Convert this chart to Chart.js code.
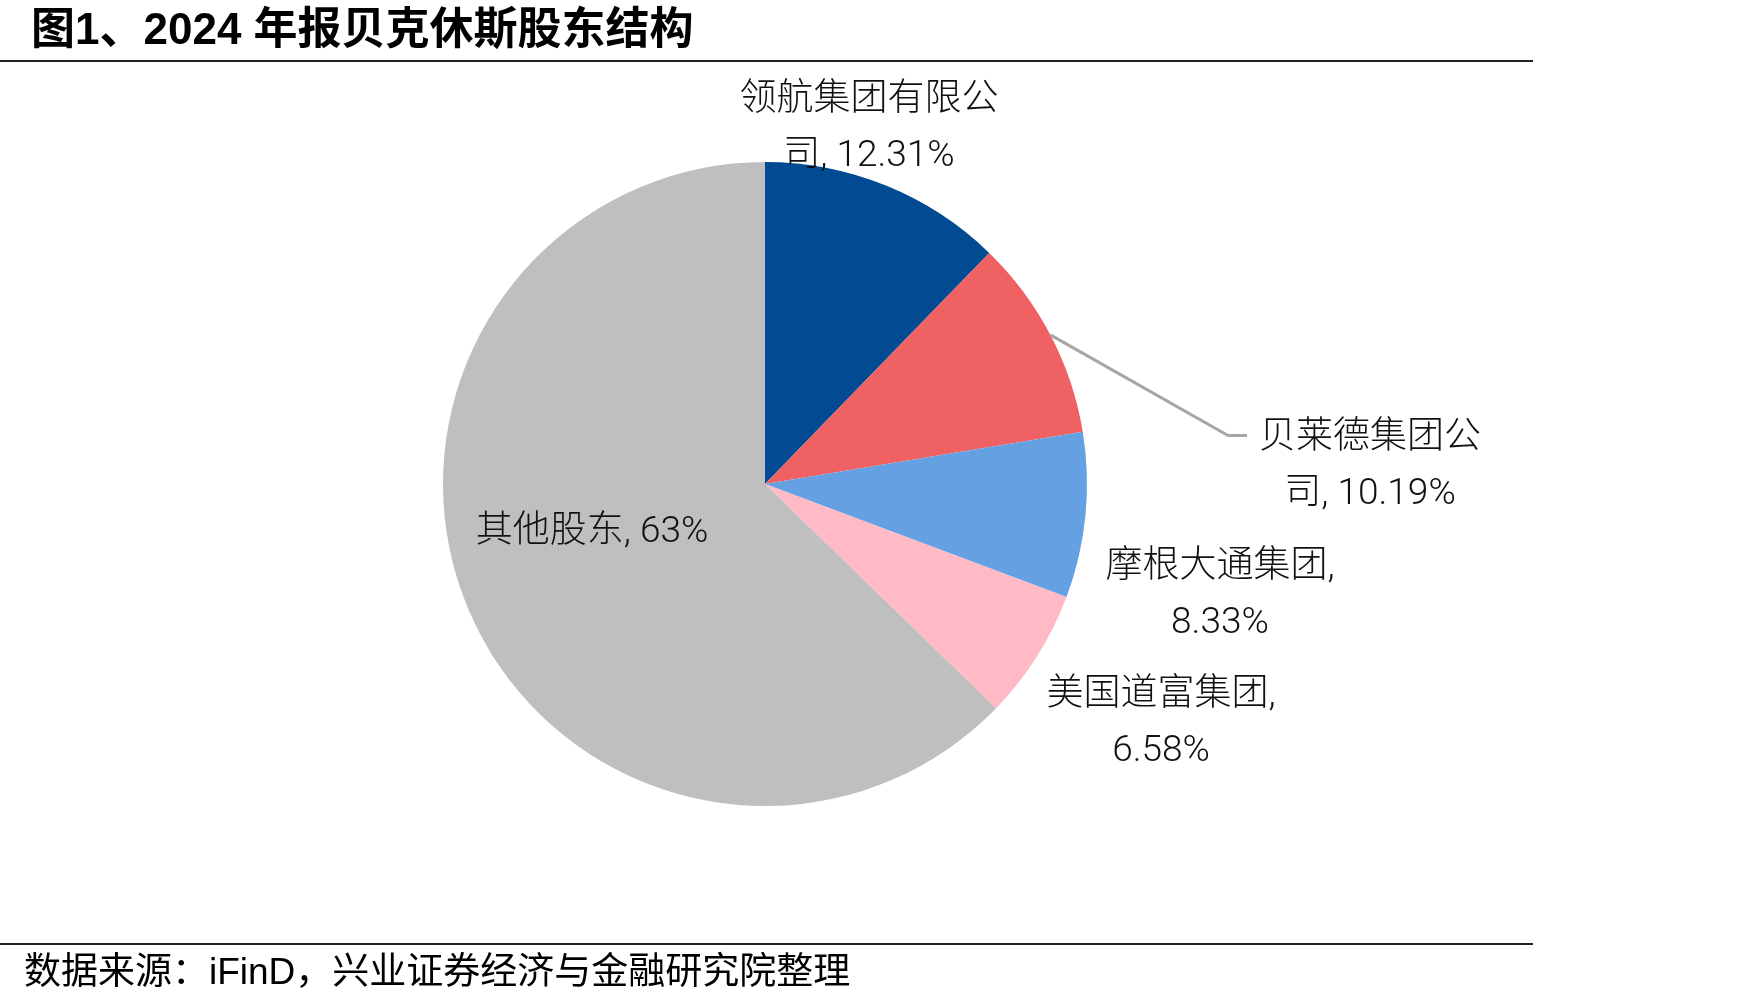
<!DOCTYPE html>
<html>
<head>
<meta charset="utf-8">
<script src="https://cdn.jsdelivr.net/npm/chart.js@4/dist/chart.umd.min.js"></script>
<style>
  html, body { margin: 0; padding: 0; background: #ffffff; }
  #wrap { position: relative; width: 1748px; height: 1004px; overflow: hidden; }
  #c { position: absolute; left: 0; top: 0; }
  .title { position: absolute; left: 31px; top: 4px; font-family: "Liberation Sans", "Noto Sans CJK SC", sans-serif; font-weight: bold; font-size: 44px; line-height: 50px; color: #000; white-space: nowrap; }
  .rule { position: absolute; left: 0; width: 1533px; height: 2px; background: #222; }
  .foot { position: absolute; left: 24px; top: 949px; font-family: "Liberation Sans", "Noto Sans CJK SC", sans-serif; font-size: 37px; line-height: 46px; color: #000; white-space: nowrap; }
</style>
</head>
<body>
<div id="wrap">
  <canvas id="c" width="1748" height="1004"></canvas>
  <div class="title">图1、2024 年报贝克休斯股东结构</div>
  <div class="rule" style="top:60px"></div>
  <div class="rule" style="top:943px"></div>
  <div class="foot">数据来源：iFinD，兴业证券经济与金融研究院整理</div>
</div>
<script>
const categories = ['领航集团有限公司', '贝莱德集团公司', '摩根大通集团', '美国道富集团', '其他股东'];
const shares = [12.31, 10.19, 8.33, 6.58, 63];
const shareLabels = ['12.31%', '10.19%', '8.33%', '6.58%', '63%'];
const sliceColors = ['#024B93', '#EF6163', '#64A0E2', '#FFBAC6', '#BFBFBF'];

// how each data label wraps (characters of the category kept on line 1)
const wrapAt = [7, 6, null, null, -1];
// label block centres, in units of the pie radius from the pie centre
const labelAnchor = [[0.323, -1.12], [1.879, -0.07], [1.413, 0.331], [1.23, 0.728], [-0.537, 0.137]];
const leaderFor = [false, true, false, false, false];

function labelLines(i) {
  const cat = categories[i], val = shareLabels[i];
  if (wrapAt[i] === -1) return [cat + ', ' + val];
  if (wrapAt[i] === null) return [cat + ',', val];
  return [cat.slice(0, wrapAt[i]), cat.slice(wrapAt[i]) + ', ' + val];
}

const labelPlugin = {
  id: 'pieLabels',
  afterDatasetsDraw(chart) {
    const ctx = chart.ctx;
    const meta = chart.getDatasetMeta(0);
    const fontPx = 37, lineH = 56, textShift = 5;
    ctx.save();
    ctx.font = '300 ' + fontPx + 'px Roboto, "Noto Sans CJK SC", "Noto Sans", sans-serif';
    ctx.fillStyle = '#111';
    ctx.textAlign = 'center';
    ctx.textBaseline = 'middle';
    meta.data.forEach((arc, i) => {
      const p = arc.getProps(['x', 'y', 'outerRadius', 'startAngle', 'endAngle'], true);
      const r = p.outerRadius;
      const cx = p.x + labelAnchor[i][0] * r;
      const cy = p.y + labelAnchor[i][1] * r;
      const lines = labelLines(i);
      const y0 = cy - (lines.length - 1) * lineH / 2;
      let maxW = 0;
      lines.forEach((t, k) => {
        ctx.fillText(t, cx, y0 + k * lineH + textShift);
        maxW = Math.max(maxW, ctx.measureText(t).width);
      });
      if (leaderFor[i]) {
        const mid = (p.startAngle + p.endAngle) / 2;
        const sx = p.x + Math.cos(mid) * r;
        const sy = p.y + Math.sin(mid) * r;
        const ex = cx - maxW / 2 - 12;
        const ey = y0 + 2;
        ctx.beginPath();
        ctx.strokeStyle = '#A6A6A6';
        ctx.lineWidth = 3;
        ctx.moveTo(sx, sy);
        ctx.lineTo(ex - 19, ey);
        ctx.lineTo(ex, ey);
        ctx.stroke();
      }
    });
    ctx.restore();
  }
};

new Chart(document.getElementById('c'), {
  type: 'pie',
  data: {
    labels: categories,
    datasets: [{
      data: shares,
      backgroundColor: sliceColors,
      borderWidth: 0
    }]
  },
  options: {
    responsive: false,
    animation: false,
    layout: { padding: { left: 443, right: 661, top: 162, bottom: 198 } },
    plugins: {
      legend: { display: false },
      tooltip: { enabled: false },
      title: { display: false }
    }
  },
  plugins: [labelPlugin]
});
</script>
</body>
</html>
